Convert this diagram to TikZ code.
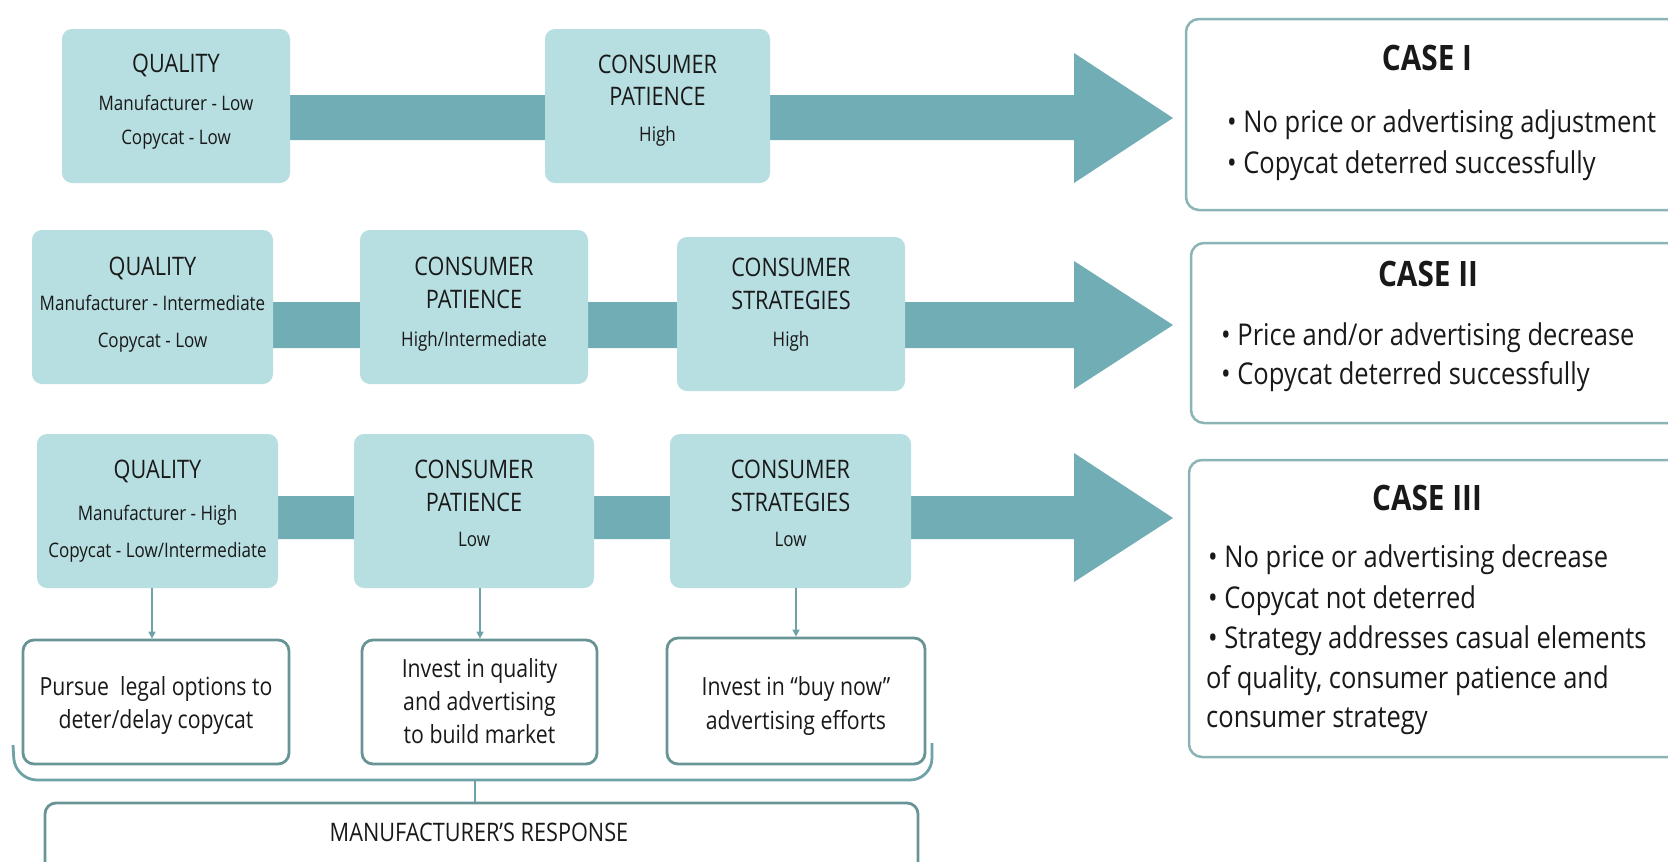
\documentclass[tikz,border=0pt]{standalone}
\usepackage{fontspec}
\setmainfont[FakeStretch=0.85]{Open Sans}
\usetikzlibrary{calc,arrows.meta}
\definecolor{boxfill}{RGB}{183,222,224}
\definecolor{barcol}{RGB}{113,173,181}
\definecolor{cbord}{RGB}{140,180,183}
\definecolor{wbord}{RGB}{105,148,150}
\definecolor{lncol}{RGB}{110,162,167}
\definecolor{txt}{RGB}{25,25,25}
\begin{document}
\begin{tikzpicture}[x=1pt,y=-1pt,
  tbox/.style={fill=boxfill, draw=none, rounded corners=10pt, inner sep=0pt, minimum height=154pt},
  hd/.style={font=\fontsize{25.5}{30}\selectfont, text=txt, inner sep=0pt, text height=18pt, text depth=0pt},
  sb/.style={font=\fontsize{20}{24}\selectfont, text=txt, inner sep=0pt, text height=14pt, text depth=0pt},
  wbox/.style={draw=wbord, line width=2.8pt, rounded corners=11pt, fill=white, inner sep=0pt},
  btxt/.style={font=\fontsize{25}{30}\selectfont, text=txt, inner sep=0pt, text height=18pt, text depth=0pt},
  cbox/.style={draw=cbord, line width=2.5pt, rounded corners=13pt, fill=white, inner sep=0pt},
  chd/.style={font=\bfseries\fontsize{35}{40}\selectfont, text=txt, inner sep=0pt, text height=25pt, text depth=0pt},
  cb/.style={font=\fontsize{30}{36}\selectfont, text=txt, inner sep=0pt, anchor=west, text height=21.5pt, text depth=0pt},
  sarr/.style={draw=lncol, line width=1.4pt, -{Triangle[length=7pt,width=7pt]}},
  brace/.style={draw=lncol, line width=2.8pt, rounded corners=22pt}
]
\useasboundingbox (0,0) rectangle (1668,862);
\clip (0,0) rectangle (1668,862);
\fill[white] (0,0) rectangle (1668,862);

% ---------- big arrows (drawn behind boxes) ----------
\coordinate (t1) at (1173,118);
\coordinate (t2) at (1173,325);
\coordinate (t3) at (1173,518);
\fill[barcol] (176,95) -- (1074,95) -- (1074,53) -- (t1) -- (1074,183) -- (1074,140) -- (176,140) -- cycle;
\fill[barcol] (152,302) -- (1074,302) -- (1074,261) -- (t2) -- (1074,389) -- (1074,348) -- (152,348) -- cycle;
\fill[barcol] (157,496) -- (1074,496) -- (1074,453) -- (t3) -- (1074,582) -- (1074,539) -- (157,539) -- cycle;

% ---------- row 1 ----------
\node[tbox, minimum width=228pt] (q1) at (176,106) {};
\node[hd] at ($(q1.center)+(0,-43)$) {QUALITY};
\node[sb] at ($(q1.center)+(0,-3)$) {Manufacturer - Low};
\node[sb] at ($(q1.center)+(0,31)$) {Copycat - Low};

\node[tbox, minimum width=225pt] (p1) at (657.5,106) {};
\node[hd] at ($(p1.center)+(0,-42)$) {CONSUMER};
\node[hd] at ($(p1.center)+(0,-10)$) {PATIENCE};
\node[sb] at ($(p1.center)+(0,28)$) {High};

% ---------- row 2 ----------
\node[tbox, minimum width=241pt] (q2) at (152.5,307) {};
\node[hd] at ($(q2.center)+(0,-41)$) {QUALITY};
\node[sb] at ($(q2.center)+(0,-4)$) {Manufacturer - Intermediate};
\node[sb] at ($(q2.center)+(0,33)$) {Copycat - Low};

\node[tbox, minimum width=228pt] (p2) at (474,307) {};
\node[hd] at ($(p2.center)+(0,-41)$) {CONSUMER};
\node[hd] at ($(p2.center)+(0,-8)$) {PATIENCE};
\node[sb] at ($(p2.center)+(0,32)$) {High/Intermediate};

\node[tbox, minimum width=228pt] (s2) at (791,314) {};
\node[hd] at ($(s2.center)+(0,-47)$) {CONSUMER};
\node[hd] at ($(s2.center)+(0,-14)$) {STRATEGIES};
\node[sb] at ($(s2.center)+(0,25)$) {High};

% ---------- row 3 ----------
\node[tbox, minimum width=241pt] (q3) at (157.5,511) {};
\node[hd] at ($(q3.center)+(0,-42)$) {QUALITY};
\node[sb] at ($(q3.center)+(0,2)$) {Manufacturer - High};
\node[sb] at ($(q3.center)+(0,39)$) {Copycat - Low/Intermediate};

\node[tbox, minimum width=240pt] (p3) at (474,511) {};
\node[hd] at ($(p3.center)+(0,-42)$) {CONSUMER};
\node[hd] at ($(p3.center)+(0,-9)$) {PATIENCE};
\node[sb] at ($(p3.center)+(0,28)$) {Low};

\node[tbox, minimum width=241pt] (s3) at (790.5,511) {};
\node[hd] at ($(s3.center)+(0,-42)$) {CONSUMER};
\node[hd] at ($(s3.center)+(0,-9)$) {STRATEGIES};
\node[sb] at ($(s3.center)+(0,28)$) {Low};

% ---------- case boxes ----------
\node[cbox, minimum width=504pt, minimum height=191pt] (c1) at (1438,114.5) {};
\node[chd] at (1427,58) {CASE I};
\node[cb] at (1227,122) {• No price or advertising adjustment};
\node[cb] at (1227,163) {• Copycat deterred successfully};

\node[cbox, minimum width=499pt, minimum height=180pt] (c2) at (1440.5,333) {};
\node[chd] at (1428,274) {CASE II};
\node[cb] at (1221,335) {• Price and/or advertising decrease};
\node[cb] at (1221,374) {• Copycat deterred successfully};

\node[cbox, minimum width=501pt, minimum height=297pt] (c3) at (1439.5,608.5) {};
\node[chd] at (1427,498) {CASE III};
\node[cb] at (1208,557) {• No price or advertising decrease};
\node[cb] at (1208,598) {• Copycat not deterred};
\node[cb] at (1208,638) {• Strategy addresses casual elements};
\node[cb] at (1206,678) {of quality, consumer patience and};
\node[cb] at (1206,717) {consumer strategy};

% ---------- bottom response boxes ----------
\node[wbox, minimum width=266pt, minimum height=124pt] (b1) at (156,702) {};
\node[btxt] at ($(b1.center)+(0,-16)$) {Pursue\ \ legal options to};
\node[btxt] at ($(b1.center)+(0,17)$) {deter/delay copycat};

\node[wbox, minimum width=235pt, minimum height=124pt] (b2) at (479.5,702) {};
\node[btxt] at ($(b2.center)+(0,-34)$) {Invest in quality};
\node[btxt] at ($(b2.center)+(0,-1)$) {and advertising};
\node[btxt] at ($(b2.center)+(0,32)$) {to build market};

\node[wbox, minimum width=258pt, minimum height=126pt] (b3) at (796,701) {};
\node[btxt] at ($(b3.center)+(0,-15)$) {Invest in “buy now”};
\node[btxt] at ($(b3.center)+(0,19)$) {advertising efforts};

\draw[sarr] (q3.south -| 152,0) -- (b1.north -| 152,0);
\draw[sarr] (p3.south -| 480,0) -- (b2.north -| 480,0);
\draw[sarr] (s3.south -| 796,0) -- (b3.north -| 796,0);

% ---------- manufacturer's response ----------
\node[wbox, minimum width=873pt, minimum height=80pt] (m) at (481.5,843) {};
\node[font=\fontsize{25.5}{30}\selectfont, text=txt, inner sep=0pt, text height=18pt, text depth=0pt] at (479,832) {MANUFACTURER’S RESPONSE};

\draw[brace] (13,745) -- (15,780) -- (932,780) -- (932,743);
\coordinate (br) at (475,780);
\draw[draw=lncol, line width=2.8pt] (br) -- (br |- m.north);
\end{tikzpicture}
\end{document}
